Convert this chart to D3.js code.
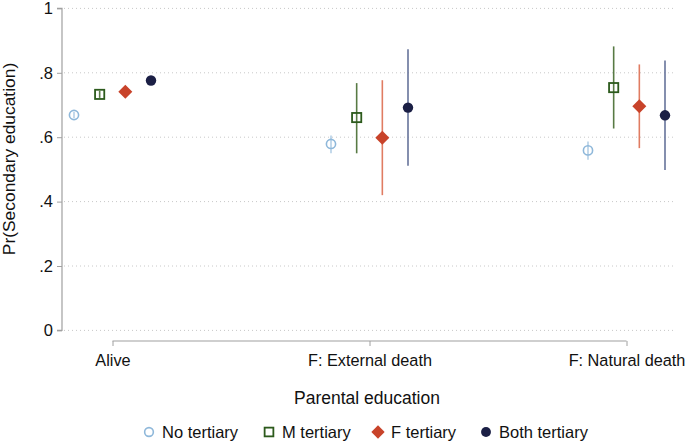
<!DOCTYPE html>
<html><head><meta charset="utf-8">
<script src="https://cdn.jsdelivr.net/npm/d3@7"></script>
<style>body{margin:0;background:#fff}svg{display:block}text{font-family:"Liberation Sans",Arial,sans-serif;fill:#111}</style>
</head><body><svg id="c" width="686" height="443"></svg>
<script>
const categories = ["Alive", "F: External death", "F: Natural death"];
const seriesNames = ["No tertiary", "M tertiary", "F tertiary", "Both tertiary"];
// point estimates [series][category]
const est = [
  [0.669, 0.579, 0.559],
  [0.733, 0.661, 0.754],
  [0.741, 0.598, 0.696],
  [0.776, 0.692, 0.668]
];
const lo = [
  [0.660, 0.550, 0.530],
  [0.722, 0.550, 0.627],
  [0.733, 0.420, 0.566],
  [0.768, 0.511, 0.498]
];
const hi = [
  [0.678, 0.605, 0.587],
  [0.744, 0.768, 0.882],
  [0.750, 0.777, 0.826],
  [0.785, 0.873, 0.838]
];
const yTicks = [0, 0.2, 0.4, 0.6, 0.8, 1];
const yTickLabels = ["0", ".2", ".4", ".6", ".8", "1"];

const markerColor = ["#8fb8da", "#2c5a1c", "#c8432a", "#1b1f45"];
const ciColor = ["#b5d0e6", "#587a44", "#e07c62", "#66739a"];
const svg = d3.select("#c");

const y = d3.scaleLinear().domain([0, 1]).range([330.4, 8.4]);
const x = d3.scalePoint().domain(categories).range([112.5, 626.5]);
const off = d3.scalePoint().domain(seriesNames).range([-38.5, 38.5]);

// gridlines
svg.append("g").selectAll("line").data(yTicks).join("line")
  .attr("x1", 64).attr("x2", 673).attr("y1", d => y(d)).attr("y2", d => y(d))
  .attr("stroke", "#c8c8c8").attr("stroke-width", 1).attr("stroke-dasharray", "1,3");

// y axis
const yAxis = d3.axisLeft(y).tickValues(yTicks).tickFormat((d, i) => yTickLabels[i]).tickSize(5).tickPadding(4);
const gy = svg.append("g").attr("transform", "translate(62,0)").call(yAxis);
gy.select(".domain").attr("stroke", "#a0a0a0").attr("stroke-width", 1.2).attr("d", `M-5,${y(1)}H0V${y(0)}H-5`);
gy.selectAll(".tick line").attr("stroke", "#a0a0a0");
gy.selectAll("text").style("font-size", "16.5px").style("font-family", '"Liberation Sans",Arial,sans-serif').attr("fill", "#111");

// x axis
const xAxis = d3.axisBottom(x).tickSize(5).tickPadding(8);
const gx = svg.append("g").attr("transform", "translate(0,341)").call(xAxis);
gx.select(".domain").attr("stroke", "#a0a0a0").attr("stroke-width", 1.2).attr("d", `M${x(categories[0])},0H${x(categories[2])}`);
gx.selectAll(".tick line").attr("stroke", "#a0a0a0");
gx.selectAll("text").style("font-size", "16.3px").style("font-family", '"Liberation Sans",Arial,sans-serif').attr("fill", "#111");

// axis titles
svg.append("text").attr("x", 367).attr("y", 404).attr("text-anchor", "middle").style("font-size", "17.5px").text("Parental education");
svg.append("text").attr("transform", "translate(15,159) rotate(-90)").attr("text-anchor", "middle").style("font-size", "17.4px").text("Pr(Secondary education)");

// data
const pts = [];
seriesNames.forEach((s, si) => categories.forEach((c, ci) => pts.push({s, si, c, v: est[si][ci], lo: lo[si][ci], hi: hi[si][ci]})));

svg.append("g").selectAll("line").data(pts).join("line")
  .attr("x1", d => x(d.c) + off(d.s)).attr("x2", d => x(d.c) + off(d.s))
  .attr("y1", d => y(d.lo)).attr("y2", d => y(d.hi))
  .attr("stroke", d => ciColor[d.si]).attr("stroke-width", 1.6);

function marker(g, si, cx, cy, scale) {
  const k = scale || 1;
  if (si === 0) g.append("circle").attr("cx", cx).attr("cy", cy).attr("r", 4.6 * k).attr("fill", "none").attr("stroke", markerColor[0]).attr("stroke-width", 1.6);
  else if (si === 1) g.append("rect").attr("x", cx - 4.6 * k).attr("y", cy - 4.6 * k).attr("width", 9.2 * k).attr("height", 9.2 * k).attr("fill", "none").attr("stroke", markerColor[1]).attr("stroke-width", 1.8);
  else if (si === 2) { const r = 7 * k; g.append("path").attr("d", `M${cx},${cy - r}L${cx + r},${cy}L${cx},${cy + r}L${cx - r},${cy}Z`).attr("fill", markerColor[2]); }
  else g.append("circle").attr("cx", cx).attr("cy", cy).attr("r", 5.2 * k).attr("fill", markerColor[3]);
}
const gm = svg.append("g");
pts.forEach(d => marker(gm, d.si, x(d.c) + off(d.s), y(d.v)));

// legend
const legX = [149, 269, 378, 486];
const gl = svg.append("g");
seriesNames.forEach((s, i) => {
  marker(gl, i, legX[i], 432, 0.95);
  gl.append("text").attr("x", legX[i] + 13).attr("y", 438).style("font-size", "16.5px").text(s);
});
</script></body></html>
